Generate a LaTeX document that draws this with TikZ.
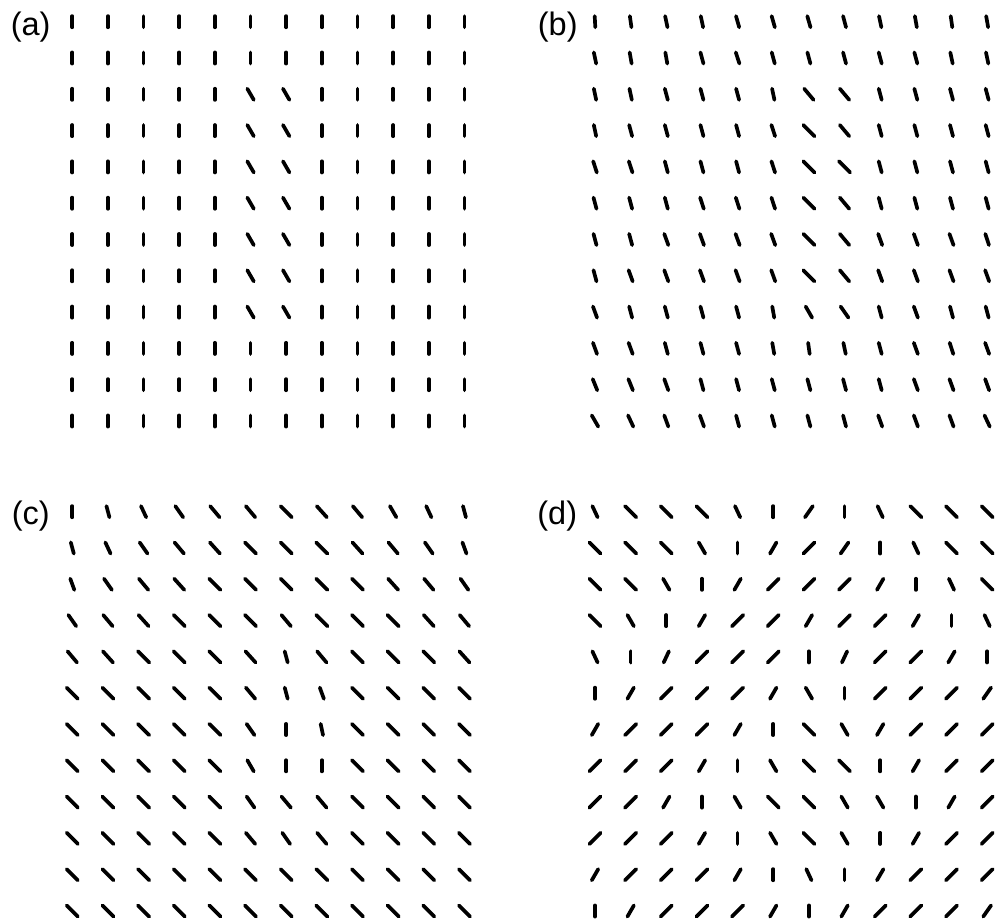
\documentclass[tikz,border=0pt]{standalone}
\usepackage{fontspec}
\setmainfont{Liberation Sans}
\tikzset{
  bar/.style={line width=2.1pt, line cap=round, black},
  panellabel/.style={anchor=west, inner sep=0pt, font=\fontsize{18.5}{20}\selectfont}
}
% one orientation field: #1,#2 first bar centre, #3 rows of angles (deg from vertical)
\newcommand{\orifield}[3]{%
  \foreach \row [count=\i from 0] in {#3} {
    \foreach \a [count=\j from 0] in \row {
      \draw[bar] ({#1+35.65*\j-5.6*tan(\a)},{#2+36.3*\i-5.6})
        -- ({#1+35.65*\j+5.6*tan(\a)},{#2+36.3*\i+5.6});
    }
  }%
}
\begin{document}
\begin{tikzpicture}[x=0.02cm, y=-0.02cm]
  \useasboundingbox (0,0) rectangle (995,922);
  % panel labels
  \node[panellabel] (laba) at (10.5,27.5) {(a)};
  \node[panellabel] (labb) at (537.5,27.5) {(b)};
  \node[panellabel] (labc) at (11.5,516) {(c)};
  \node[panellabel] (labd) at (537,516) {(d)};
  % (a)
  \orifield{72.3}{21.7}{
    {0,0,0,0,0,0,0,0,0,0,0,0},
    {0,0,0,0,0,0,0,0,0,0,0,0},
    {0,0,0,0,0,30,30,0,0,0,0,0},
    {0,0,0,0,0,30,30,0,0,0,0,0},
    {0,0,0,0,0,30,30,0,0,0,0,0},
    {0,0,0,0,0,30,30,0,0,0,0,0},
    {0,0,0,0,0,30,30,0,0,0,0,0},
    {0,0,0,0,0,30,30,0,0,0,0,0},
    {0,0,0,0,0,30,30,0,0,0,0,0},
    {0,0,0,0,0,0,0,0,0,0,0,0},
    {0,0,0,0,0,0,0,0,0,0,0,0},
    {0,0,0,0,0,0,0,0,0,0,0,0}}
  % (b)
  \orifield{595}{21.7}{
    {3,8,12,12,16,16,16,15,12,10,8,10},
    {12,10,10,15,18,15,15,15,15,15,12,12},
    {12,12,15,15,15,12,40,40,15,15,15,15},
    {12,15,15,15,15,18,45,40,15,15,15,15},
    {18,18,15,15,15,18,45,45,15,15,15,15},
    {15,15,15,18,18,18,45,40,15,15,15,15},
    {15,15,20,20,20,20,45,40,20,20,20,18},
    {15,20,20,20,20,20,45,40,20,20,20,20},
    {20,15,15,15,15,10,30,35,15,20,15,15},
    {20,20,15,15,15,10,8,12,15,20,18,20},
    {22,22,20,15,15,15,15,15,15,20,20,20},
    {30,25,20,20,15,15,15,15,20,20,20,25}}
  % (c)
  \orifield{72.3}{511.7}{
    {0,15,25,35,40,40,45,42,40,30,25,15},
    {15,25,35,40,42,45,45,45,42,40,35,20},
    {20,35,40,42,45,45,45,45,45,42,40,35},
    {35,40,42,45,45,45,40,45,45,45,42,40},
    {40,42,45,45,45,42,15,40,45,45,45,42},
    {45,45,45,45,45,40,15,20,45,45,45,45},
    {45,45,45,45,45,35,0,12,45,45,45,45},
    {45,45,45,45,45,30,0,0,45,45,45,45},
    {45,45,45,45,45,35,40,40,45,45,45,45},
    {45,45,45,45,45,40,35,40,45,45,45,45},
    {45,45,45,45,45,45,45,45,45,45,45,45},
    {45,45,45,45,45,45,45,45,45,45,45,45}}
  % (d)
  \orifield{595}{511.7}{
    {25,45,45,45,25,0,-35,0,25,45,45,45},
    {45,45,45,30,0,-30,-45,-35,0,25,45,45},
    {45,45,30,0,-30,-45,-45,-45,-30,0,25,45},
    {45,30,0,-30,-45,-45,-30,-45,-45,-30,0,25},
    {25,0,-25,-45,-45,-45,0,-25,-45,-45,-30,0},
    {0,-30,-45,-45,-45,-30,30,0,-45,-45,-45,-35},
    {-30,-45,-45,-45,-30,0,45,30,-30,-45,-45,-45},
    {-45,-45,-45,-30,0,30,45,45,0,-30,-45,-45},
    {-45,-45,-30,0,30,45,45,30,30,0,-30,-45},
    {-45,-45,-45,-30,0,30,45,30,0,-30,-45,-45},
    {-30,-45,-45,-45,-30,0,25,0,-30,-45,-45,-45},
    {0,-30,-45,-45,-45,-30,0,-30,-45,-45,-45,-35}}
\end{tikzpicture}
\end{document}
